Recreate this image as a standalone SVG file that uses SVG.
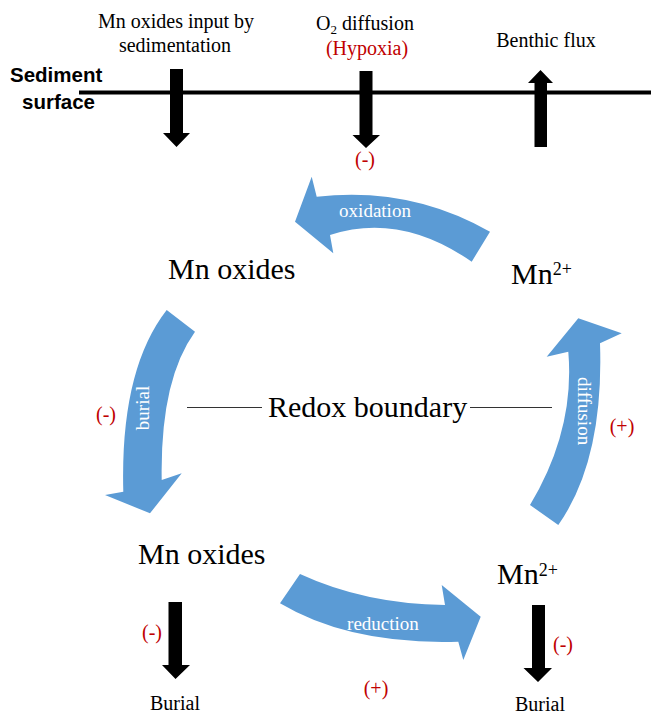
<svg xmlns="http://www.w3.org/2000/svg" width="651" height="715" viewBox="0 0 651 715">
<style>
  .serif { font-family: "Liberation Serif", "DejaVu Serif", "Times New Roman", serif; }
  .lab { font-size: 20px; fill: #000; }
  .big { font-size: 30px; fill: #000; }
  .sup { font-size: 18px; }
  .red { font-size: 20px; fill: #C00000; }
  .wht { font-size: 19px; fill: #FFFFFF; }
  .bold { font-family: "Liberation Sans", Arial, sans-serif; font-size: 20.5px; font-weight: bold; fill: #000; }
  .blue { fill: #5B9BD5; }
  .blk { fill: #000; }
</style>
<rect width="651" height="715" fill="#FFFFFF"/>

<g id="sediment-surface">
  <text class="bold" x="10" y="82">Sediment</text>
  <text class="bold" x="22" y="109">surface</text>
  <line x1="79" y1="92.5" x2="651" y2="92.5" stroke="#000" stroke-width="4"/>
</g>

<g class="serif" font-family="Liberation Serif, DejaVu Serif, serif">
<g id="input-label">
  <text class="lab" x="176" y="28" text-anchor="middle">Mn oxides input by</text>
  <text class="lab" x="175" y="52" text-anchor="middle">sedimentation</text>
</g>
<g id="o2-label">
  <text class="lab" x="365" y="30" text-anchor="middle">O<tspan font-size="13" dy="4">2</tspan><tspan dy="-4"> diffusion</tspan></text>
  <text class="red" x="367" y="55" text-anchor="middle">(Hypoxia)</text>
  <text class="red" x="365" y="166" text-anchor="middle">(-)</text>
</g>
<g id="benthic-label">
  <text class="lab" x="546" y="47" text-anchor="middle">Benthic flux</text>
</g>
</g>

<g id="connectors">
  <path class="blk" d="M170,69 H183 V133 H190 L176.5,147 L163,133 H170 Z"/>
  <path class="blk" d="M359.5,71 H372.5 V135 H380 L366,148 L352.5,135 H359.5 Z"/>
  <path class="blk" d="M534.5,147 H547 V83 H553 L540.5,70 L528,83 H534.5 Z"/>
  <path class="blk" d="M168.5,602 H182 V665 H190 L175.5,679 L162,665 H168.5 Z"/>
  <path class="blk" d="M532,605 H545 V668 H552 L538,682 L523.5,668 H532 Z"/>
  <path id="arrow-oxidation" class="blue" d="M490,231.7 Q410,186 316.7,196.7 L311.7,176.7 L295,221.7 L333.3,253.3 L330,235 Q400,212 471.7,261.7 Z"/>
  <path id="arrow-burial" class="blue" d="M166.7,310 L195,331.7 Q160,380 161.7,480 L181.7,473.3 L150,513.3 L105,495 L123.3,491.7 Q120,370 166.7,310 Z"/>
  <path id="arrow-diffusion" class="blue" d="M558.3,525 Q604,460 600,343.3 L621.7,333.3 L578.3,318.3 L546.7,356.7 L568.3,351.7 Q575,430 530,505 Z"/>
  <path id="arrow-reduction" class="blue" d="M300,574 Q365,604 445,605 L441.7,585 L480.7,616.7 L463.3,660 L458.3,641.7 Q350,645 280,603.3 Z"/>
  <line x1="187" y1="407.5" x2="262" y2="407.5" stroke="#333" stroke-width="1.2"/>
  <line x1="470" y1="407.5" x2="552" y2="407.5" stroke="#333" stroke-width="1.2"/>
</g>

<g class="serif" font-family="Liberation Serif, DejaVu Serif, serif">
<g id="arrow-labels">
  <text class="wht" x="375" y="217" text-anchor="middle">oxidation</text>
  <text class="wht" x="383" y="630" text-anchor="middle">reduction</text>
  <text class="wht" transform="translate(149,408) rotate(-90)" text-anchor="middle">burial</text>
  <text class="wht" transform="translate(578,411) rotate(90)" text-anchor="middle">diffusion</text>
</g>

<g id="mn-oxides-top">
  <text class="big" x="168" y="279">Mn oxides</text>
</g>
<g id="mn2-top">
  <text class="big" x="511" y="284">Mn<tspan class="sup" dy="-9">2+</tspan></text>
</g>
<g id="redox-boundary">
  <text class="big" x="268" y="417">Redox boundary</text>
</g>
<g id="mn-oxides-bottom">
  <text class="big" x="138" y="564">Mn oxides</text>
</g>
<g id="mn2-bottom">
  <text class="big" x="497" y="584">Mn<tspan class="sup" dy="-8">2+</tspan></text>
</g>

<g id="signs">
  <text class="red" x="106" y="421" text-anchor="middle">(-)</text>
  <text class="red" x="622" y="433" text-anchor="middle">(+)</text>
  <text class="red" x="152" y="639" text-anchor="middle">(-)</text>
  <text class="red" x="376" y="695" text-anchor="middle">(+)</text>
  <text class="red" x="563" y="651" text-anchor="middle">(-)</text>
</g>

<g id="burial-labels">
  <text class="lab" x="175" y="710" text-anchor="middle">Burial</text>
  <text class="lab" x="540" y="711" text-anchor="middle">Burial</text>
</g>
</g>
</svg>
